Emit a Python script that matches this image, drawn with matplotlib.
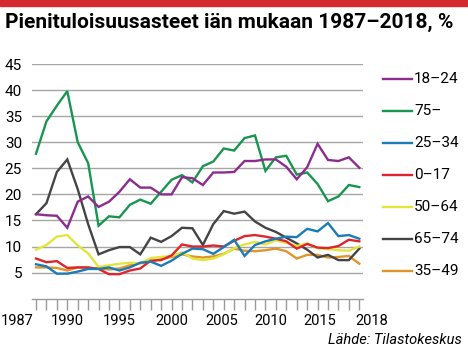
import matplotlib.pyplot as plt
from matplotlib.lines import Line2D
import matplotlib.transforms as mtransforms

# data
years = list(range(1987, 2019))

age_18_24 = [16.2, 16.0, 15.9, 13.6, 18.6, 19.6, 17.6, 18.6, 20.5, 22.9, 21.3, 21.3, 20.0, 20.0, 23.3, 23.1,
             21.8, 24.2, 24.2, 24.3, 26.4, 26.4, 26.7, 26.7, 25.3, 22.9, 25.2, 29.7, 26.6, 26.4, 27.1, 25.1]
age_75 = [27.8, 34.0, 37.0, 39.8, 30.0, 26.0, 14.0, 15.8, 15.6, 18.0, 19.0, 18.2, 20.5, 22.8, 23.7, 22.3,
          25.4, 26.3, 28.8, 28.4, 30.8, 31.3, 24.5, 27.1, 27.4, 23.8, 24.2, 22.0, 18.7, 19.6, 21.8, 21.4]
age_25_34 = [6.6, 6.2, 4.8, 4.8, 5.2, 5.7, 5.7, 6.0, 5.4, 6.0, 6.9, 7.1, 6.3, 7.3, 8.6, 9.6,
             9.5, 8.6, 9.9, 11.3, 8.2, 10.3, 11.0, 11.5, 11.9, 11.8, 13.4, 12.9, 14.5, 12.0, 12.2, 11.5]
age_0_17 = [7.7, 7.0, 7.2, 5.9, 6.0, 6.0, 5.7, 4.7, 4.7, 5.4, 5.8, 7.3, 7.4, 8.3, 10.4, 10.0,
            10.0, 10.2, 10.0, 11.1, 12.0, 12.2, 11.9, 11.5, 11.0, 9.6, 10.5, 9.8, 9.7, 10.1, 11.3, 11.0]
age_50_64 = [9.4, 10.3, 11.9, 12.2, 10.2, 8.7, 6.1, 6.4, 6.7, 6.9, 6.8, 7.8, 8.0, 8.2, 8.9, 7.7,
             7.4, 7.7, 8.5, 9.7, 10.4, 10.9, 10.4, 11.2, 10.7, 10.1, 10.6, 9.7, 9.5, 9.3, 9.2, 10.0]
age_65_74 = [16.2, 18.3, 24.3, 26.7, 21.0, 14.3, 8.5, 9.3, 9.9, 9.9, 8.5, 11.7, 10.9, 12.0, 13.6, 13.5,
             10.3, 14.3, 16.8, 16.3, 16.7, 14.8, 13.6, 12.8, 11.7, 10.6, 9.4, 7.9, 8.4, 7.4, 7.4, 9.6]
age_35_49 = [6.0, 6.0, 5.9, 5.4, 6.0, 5.9, 5.8, 5.6, 5.8, 6.4, 6.8, 7.1, 7.6, 8.0, 8.5, 8.1,
             7.9, 8.1, 8.6, 9.6, 9.2, 9.1, 9.3, 9.6, 9.1, 7.7, 8.4, 8.4, 7.9, 8.0, 8.2, 6.7]

labels = ["18\u201324", "75\u2013", "25\u201334", "0\u201317", "50\u201364", "65\u201374", "35\u201349"]
series = [age_18_24, age_75, age_25_34, age_0_17, age_50_64, age_65_74, age_35_49]
colors = ["#8b2c8e", "#1a9550", "#1b7bb5", "#e1242b", "#e2e63a", "#444444", "#e0952b"]

label_years = [1987, 1990, 1995, 2000, 2005, 2010, 2015, 2018]
y_ticks = [5, 10, 15, 20, 25, 30, 35, 40, 45]

plt.rcParams['font.family'] = ['Roboto', 'DejaVu Sans']

W, H = 468, 351
fig = plt.figure(figsize=(W / 100, H / 100), dpi=100)

# red band at the top
fig.patches.append(plt.Rectangle((0, 1 - 5.5 / H), 1, 5.5 / H, transform=fig.transFigure,
                                 color="#d42a2f", zorder=0))

# title: bold, sized so it spans the same width as the original
title = fig.text(5 / W, 1 - 22.5 / H, "Pienituloisuusasteet iän mukaan 1987\u20132018, %",
                 fontweight='bold', fontsize=14, va='center', ha='left')
renderer = fig.canvas.get_renderer()
tw = title.get_window_extent(renderer).width
title.set_fontsize(14 * 447 / tw)

ax = fig.add_axes([31.7 / W, 1 - 298.7 / H, (363 - 31.7) / W, (298.7 - 64) / H])

# plot in reverse so the first legend series is on top
for vals, c in list(zip(series, colors))[::-1]:
    ax.plot(years, vals, color=c, lw=1.7, solid_joinstyle='miter', zorder=3)

ax.set_xlim(1986.588, 2018.355)
ax.set_ylim(0, 45)

ax.set_yticks(y_ticks)
ax.yaxis.grid(True, color="#a6a6a6", lw=1.0)
ax.set_axisbelow(True)
ax.tick_params(axis='y', length=0, pad=7, labelsize=11)

ax.set_xticks(label_years)
ax.set_xticks(years, minor=True)
ax.set_xticklabels([str(y) for y in label_years])
ax.tick_params(axis='x', which='both', direction='out', length=8, width=1, color="#9a9a9a",
               pad=3, labelsize=10.5)

for s in ['top', 'left', 'right']:
    ax.spines[s].set_visible(False)
ax.spines['bottom'].set_color("#9a9a9a")
ax.spines['bottom'].set_linewidth(1)

# shift some year labels a little, like the original
shifts = {1987: (-2, 'right'), 2005: (-2, 'center'), 2010: (-5, 'center'), 2015: (-8, 'center'), 2018: (-4, 'left')}
for lab, yr in zip(ax.get_xticklabels(), label_years):
    if yr in shifts:
        dx, ha = shifts[yr]
        lab.set_ha(ha)
        lab.set_transform(lab.get_transform() + mtransforms.Affine2D().translate(dx, 0))

# legend drawn by hand on the right
leg_y = [79, 111, 143, 175, 207, 239, 271]
for lab, c, yp in zip(labels, colors, leg_y):
    fig.add_artist(Line2D([383 / W, 412 / W], [1 - yp / H, 1 - yp / H], color=c, lw=1.7,
                          transform=fig.transFigure))
    fig.text(414 / W, 1 - yp / H, lab, fontsize=11, va='center', ha='left')

fig.text(462 / W, 1 - 340 / H, "Lähde: Tilastokeskus", fontsize=10.5, style='italic',
         va='center', ha='right')

fig.savefig("out.png", dpi=100)
